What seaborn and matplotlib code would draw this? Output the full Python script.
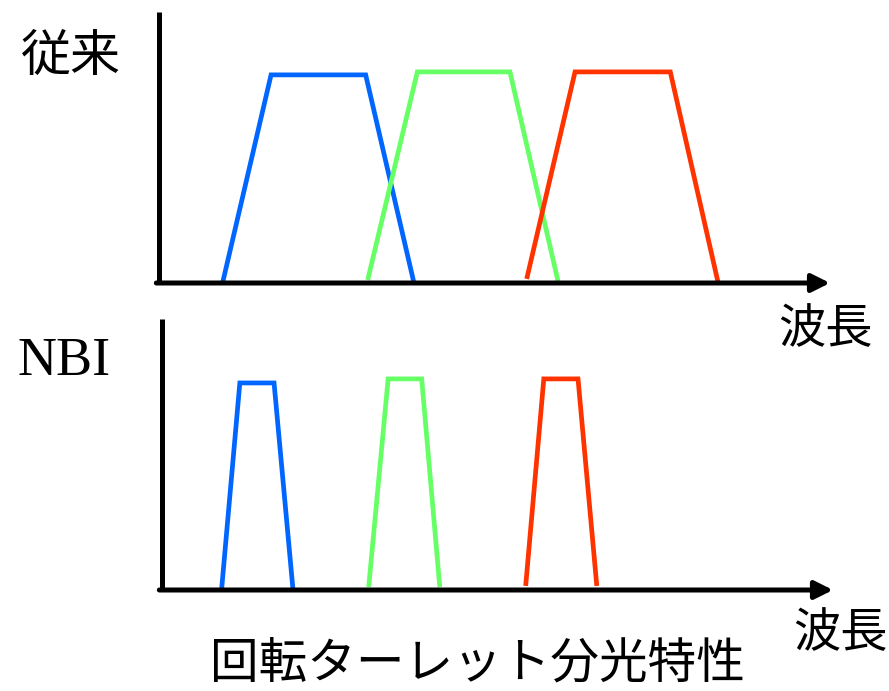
import numpy as np
import pandas as pd
import matplotlib
matplotlib.use("Agg")
import matplotlib.pyplot as plt
import seaborn as sns

# ---- data (arbitrary wavelength scale 0-100, relative transmittance 0-100) ----
bands = ["B", "G", "R"]
colors = ["#0066FF", "#66FF66", "#FF3300"]

conv_B_x = [9.5, 16.7, 30.8, 38.0]
conv_B_y = [0.3, 76.8, 76.8, 0.0]
conv_G_x = [31.1, 38.5, 52.3, 59.5]
conv_G_y = [1.1, 77.9, 77.9, 0.3]
conv_R_x = [54.8, 62.0, 76.2, 83.3]
conv_R_y = [1.5, 77.9, 77.9, 0.4]

nbi_B_x = [8.9, 11.6, 16.7, 19.5]
nbi_B_y = [0.7, 76.4, 76.4, 0.7]
nbi_G_x = [30.8, 33.7, 38.7, 41.4]
nbi_G_y = [1.1, 77.9, 77.9, 1.1]
nbi_R_x = [54.2, 56.9, 62.0, 64.8]
nbi_R_y = [1.5, 77.9, 77.9, 1.5]

label_top = "従来"
label_bottom = "NBI"
xlabel = "波長"
title = "回転ターレット分光特性"


def frame(xs, ys):
    rows = []
    for b, x, y in zip(bands, xs, ys):
        for i, (xx, yy) in enumerate(zip(x, y)):
            rows.append({"band": b, "order": i, "wl": xx, "t": yy})
    return pd.DataFrame(rows)


df_conv = frame([conv_B_x, conv_G_x, conv_R_x], [conv_B_y, conv_G_y, conv_R_y])
df_nbi = frame([nbi_B_x, nbi_G_x, nbi_R_x], [nbi_B_y, nbi_G_y, nbi_R_y])

sns.set_theme(style="white")
plt.rcParams["font.family"] = ["Noto Sans CJK JP", "DejaVu Sans"]

W, H = 889, 691
fig = plt.figure(figsize=(W / 100, H / 100), dpi=100)
fig.patch.set_facecolor("white")


def px_axes(left, right, top, bottom):
    return fig.add_axes([left / W, 1 - bottom / H, (right - left) / W, (bottom - top) / H])


ax1 = px_axes(159, 830, 12, 283)
ax2 = px_axes(162, 833, 319, 590)

pal = dict(zip(bands, colors))
for ax, df in ((ax1, df_conv), (ax2, df_nbi)):
    sns.lineplot(data=df, x="wl", y="t", hue="band", palette=pal, sort=False,
                 estimator=None, units="band", linewidth=3.4, legend=False, ax=ax,
                 clip_on=False)
    for ln in ax.lines:
        ln.set_solid_joinstyle("miter")
        ln.set_solid_capstyle("butt")
    ax.set_xlim(0, 100)
    ax.set_ylim(0, 100)
    ax.set_facecolor("none")
    for s in ("top", "right", "bottom"):
        ax.spines[s].set_visible(False)
    ax.spines["left"].set_linewidth(3.6)
    ax.spines["left"].set_color("black")
    ax.spines["left"].set_capstyle("butt")
    ax.set_xticks([])
    ax.set_yticks([])
    ax.set_xlabel("")
    ax.set_ylabel("")
    ax.annotate("", xy=(1.0, 0), xytext=(-0.004, 0), xycoords="axes fraction",
                arrowprops=dict(arrowstyle="-|>,head_length=0.9,head_width=0.45",
                                color="black", lw=3.6, shrinkA=0, shrinkB=0),
                annotation_clip=False)


def ftext(x, y, s, **kw):
    fig.text(x / W, 1 - y / H, s, ha="center", va="center", **kw)


ftext(71, 57, label_top, fontsize=36, color="black")
ftext(64, 362, label_bottom, fontsize=39, color="black", family=["Liberation Serif"])
ftext(825, 330, xlabel, fontsize=34, color="black")
ftext(840, 634, xlabel, fontsize=34, color="black")
ftext(477, 664, title, fontsize=35, color="black")

fig.savefig("out.png", dpi=100, facecolor="white")
